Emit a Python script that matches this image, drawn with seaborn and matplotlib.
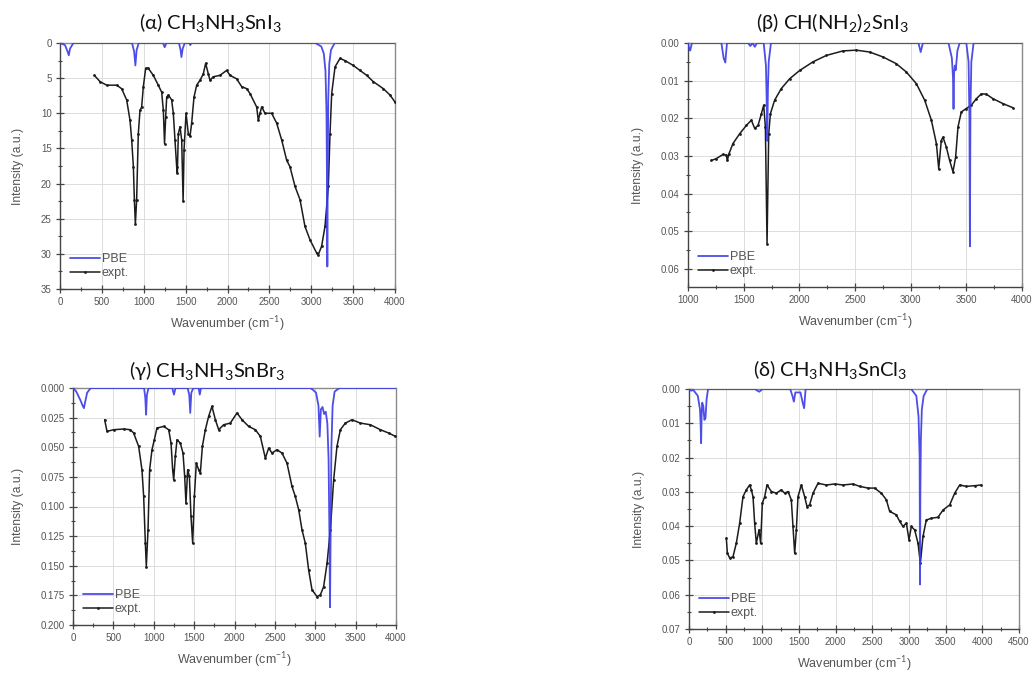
import matplotlib
matplotlib.use("Agg")
import matplotlib.pyplot as plt
from matplotlib.ticker import MultipleLocator, FormatStrFormatter
import pandas as pd
import seaborn as sns

# ---------------------------------------------------------------- data
# (alpha) CH3NH3SnI3
alpha_pbe_x = [0, 60, 90, 105, 120, 160, 860, 885, 900, 915, 940, 1230, 1250, 1270,
               1420, 1440, 1450, 1465, 1490, 1545, 1555, 1570, 3050, 3120, 3150, 3170,
               3182, 3188, 3192, 3197, 3203, 3215, 3235, 3280, 4000]
alpha_pbe_y = [0, 0.3, 1.2, 1.75, 0.8, 0, 0, 1.2, 3.2, 1.0, 0, 0, 0.6, 0,
               0, 1.0, 2.0, 0.8, 0, 0, 0.3, 0, 0, 0.5, 1.5, 4.0,
               10.0, 20.0, 31.8, 18.0, 8.0, 3.0, 1.0, 0, 0]
alpha_exp_x = [410, 478, 557, 677, 736, 796, 836, 856, 876, 888, 900, 915, 935, 955, 975,
               995, 1023, 1055, 1114, 1174, 1214, 1234, 1248, 1262, 1274, 1294, 1333, 1353,
               1373, 1393, 1401, 1413, 1433, 1453, 1470, 1481, 1505, 1532, 1552, 1572, 1600,
               1632, 1672, 1711, 1739, 1771, 1791, 1831, 1910, 1990, 2030, 2109, 2169, 2229,
               2269, 2348, 2368, 2388, 2408, 2448, 2527, 2587, 2647, 2707, 2746, 2806, 2866,
               2925, 2985, 3065, 3085, 3124, 3164, 3204, 3224, 3244, 3284, 3343, 3403, 3502,
               3582, 3662, 3741, 3861, 3940, 4000]
alpha_exp_y = [4.6, 5.5, 6.0, 6.0, 6.5, 8.1, 11.0, 13.8, 17.6, 22.3, 25.8, 22.3, 12.9, 9.6, 9.1,
               6.2, 3.6, 3.6, 4.6, 6.0, 7.0, 9.6, 14.3, 10.5, 7.7, 7.4, 8.1, 10.0,
               13.8, 17.6, 18.5, 12.9, 11.9, 13.8, 22.5, 15.2, 10.0, 12.9, 13.3, 11.4, 7.7,
               6.0, 5.3, 4.4, 2.9, 4.4, 5.3, 4.8, 4.6, 3.9, 4.6, 5.1, 6.2, 6.5,
               7.2, 9.1, 11.0, 10.0, 9.1, 10.0, 10.0, 11.4, 13.8, 16.7, 17.6, 20.4, 22.3,
               26.1, 28.0, 29.9, 30.1, 28.9, 26.1, 20.4, 12.9, 7.2, 3.4, 2.2, 2.5, 3.2,
               3.9, 4.6, 5.5, 6.5, 7.4, 8.4]

# (beta) CH(NH2)2SnI3
beta_pbe_x = [1000, 1010, 1020, 1035, 1300, 1320, 1335, 1350, 1540, 1560, 1580, 1600, 1620,
              1680, 1700, 1706, 1712, 1718, 1725, 1745, 3070, 3090, 3110, 3340, 3370, 3380,
              3385, 3390, 3397, 3405, 3420, 3440, 3500, 3520, 3528, 3532, 3537, 3545, 3565, 4000]
beta_pbe_y = [0.0, 0.0015, 0.002, 0.0, 0.0, 0.004, 0.0052, 0.0, 0.0, 0.0008, 0.0, 0.001, 0.0,
              0.0, 0.006, 0.014, 0.026, 0.012, 0.005, 0.0, 0.0, 0.0024, 0.0, 0.0, 0.004, 0.009,
              0.0175, 0.008, 0.006, 0.0072, 0.002, 0.0, 0.0, 0.005, 0.02, 0.054, 0.018, 0.005, 0.0, 0.0]
beta_exp_x = [1210, 1254, 1314, 1344, 1353, 1368, 1404, 1464, 1524, 1569, 1599, 1629, 1659,
              1680, 1695, 1710, 1725, 1740, 1778, 1838, 1913, 2003, 2123, 2243, 2392, 2512,
              2632, 2751, 2871, 2961, 3051, 3126, 3186, 3231, 3252, 3275, 3290, 3320, 3350,
              3380, 3404, 3425, 3455, 3500, 3545, 3590, 3635, 3680, 3740, 3829, 3919]
beta_exp_y = [0.0312, 0.0307, 0.0296, 0.0298, 0.0312, 0.0294, 0.0267, 0.0241, 0.0219, 0.0205,
              0.0227, 0.0219, 0.0188, 0.0165, 0.0223, 0.0533, 0.0241, 0.0188, 0.0152, 0.0121,
              0.0095, 0.0073, 0.0050, 0.0033, 0.0021, 0.0019, 0.0024, 0.0037, 0.0055, 0.0077,
              0.0108, 0.0152, 0.0205, 0.0267, 0.0334, 0.0259, 0.0250, 0.0276, 0.0312, 0.0342,
              0.0303, 0.0223, 0.0183, 0.0174, 0.0165, 0.0148, 0.0135, 0.0136, 0.0148, 0.0161,
              0.0172]

# (gamma) CH3NH3SnBr3
gamma_pbe_x = [0, 40, 90, 120, 135, 150, 175, 220, 880, 895, 905, 915, 935, 1230, 1250, 1270,
               1420, 1440, 1452, 1465, 1490, 1555, 1570, 1585, 2940, 2980, 3010, 3040, 3055,
               3070, 3090, 3110, 3130, 3150, 3165, 3175, 3183, 3192, 3200, 3215, 3240, 3300, 4000]
gamma_pbe_y = [0, 0.003, 0.010, 0.015, 0.017, 0.012, 0.004, 0, 0, 0.008, 0.0225, 0.006, 0, 0,
               0.0056, 0, 0, 0.006, 0.021, 0.004, 0, 0, 0.0056, 0, 0, 0.002, 0.004, 0.015,
               0.041, 0.018, 0.016, 0.022, 0.020, 0.030, 0.060, 0.120, 0.185, 0.110, 0.050,
               0.015, 0.003, 0, 0]
gamma_exp_x = [392, 421, 504, 627, 710, 751, 813, 854, 875, 896, 908, 929, 949, 978, 1007, 1040,
               1123, 1185, 1214, 1234, 1247, 1267, 1288, 1329, 1362, 1383, 1399, 1420, 1441,
               1461, 1482, 1503, 1527, 1556, 1577, 1602, 1639, 1680, 1721, 1763, 1804, 1866,
               1948, 2031, 2093, 2175, 2258, 2320, 2382, 2423, 2464, 2526, 2588, 2650, 2712,
               2753, 2795, 2836, 2877, 2918, 2960, 3022, 3063, 3104, 3146, 3187, 3228, 3269,
               3311, 3373, 3455, 3558, 3682, 3806, 3909, 3992]
gamma_exp_y = [0.0268, 0.0366, 0.0352, 0.0346, 0.0352, 0.0380, 0.0493, 0.0690, 0.0915, 0.131,
               0.1507, 0.1197, 0.0690, 0.0521, 0.0437, 0.0338, 0.0324, 0.0352, 0.0465, 0.0690,
               0.0775, 0.0577, 0.0437, 0.0465, 0.0549, 0.0746, 0.0972, 0.0690, 0.0746, 0.108,
               0.131, 0.0915, 0.0634, 0.0690, 0.0718, 0.0493, 0.0352, 0.0239, 0.0155, 0.0268,
               0.0352, 0.0310, 0.0296, 0.0211, 0.0268, 0.0324, 0.0352, 0.0408, 0.0592, 0.0507,
               0.0549, 0.0521, 0.0549, 0.0634, 0.0831, 0.0915, 0.1028, 0.1197, 0.131, 0.1535,
               0.1704, 0.176, 0.1746, 0.1676, 0.148, 0.1197, 0.0775, 0.0493, 0.0352, 0.0296,
               0.0268, 0.0296, 0.0310, 0.0352, 0.0380, 0.0408]

# (delta) CH3NH3SnCl3
delta_pbe_x = [0, 30, 60, 120, 150, 158, 165, 172, 180, 195, 210, 225, 240, 260, 900, 940, 960,
               1000, 1380, 1410, 1430, 1450, 1520, 1550, 1570, 1590, 3030, 3100, 3130, 3145,
               3150, 3155, 3162, 3175, 3200, 3250, 4000]
delta_pbe_y = [0, 0.0005, 0.0003, 0.002, 0.006, 0.010, 0.0158, 0.008, 0.004, 0.005, 0.009,
               0.0085, 0.003, 0, 0, 0.0006, 0.0008, 0, 0, 0.002, 0.0037, 0.001, 0.001, 0.004,
               0.0056, 0, 0, 0.002, 0.008, 0.020, 0.057, 0.030, 0.015, 0.006, 0.002, 0, 0]
delta_exp_x = [509, 523, 555, 600, 645, 691, 736, 782, 827, 850, 873, 895, 918, 955, 977, 1000,
               1032, 1064, 1123, 1191, 1259, 1305, 1350, 1395, 1418, 1441, 1464, 1486, 1532,
               1577, 1609, 1645, 1691, 1759, 1873, 1986, 2100, 2236, 2327, 2441, 2532, 2623,
               2691, 2736, 2827, 2873, 2918, 2964, 3000, 3032, 3077, 3123, 3155, 3191, 3236,
               3305, 3395, 3464, 3555, 3623, 3691, 3782, 3895, 3986]
delta_exp_y = [0.0435, 0.0479, 0.0493, 0.0489, 0.0450, 0.0391, 0.0314, 0.0294, 0.0280, 0.0294,
               0.0314, 0.0391, 0.0450, 0.0411, 0.0450, 0.0333, 0.0314, 0.0280, 0.0299, 0.0304,
               0.0294, 0.0304, 0.0299, 0.0323, 0.0401, 0.0479, 0.0411, 0.0314, 0.0280, 0.0314,
               0.0343, 0.0338, 0.0304, 0.0275, 0.0280, 0.0277, 0.0280, 0.0277, 0.0284, 0.0289,
               0.0289, 0.0304, 0.0323, 0.0357, 0.0367, 0.0386, 0.0401, 0.0391, 0.0440, 0.0401,
               0.0411, 0.0450, 0.0508, 0.0430, 0.0382, 0.0377, 0.0374, 0.0353, 0.0338, 0.0304,
               0.0280, 0.0284, 0.0282, 0.0280]

titles = [r"(α) CH$_3$NH$_3$SnI$_3$", r"(β) CH(NH$_2$)$_2$SnI$_3$",
          r"(γ) CH$_3$NH$_3$SnBr$_3$", r"(δ) CH$_3$NH$_3$SnCl$_3$"]

# ---------------------------------------------------------------- style
sns.set_style("ticks")
plt.rcParams["font.family"] = ["Liberation Sans", "DejaVu Sans"]
plt.rcParams["mathtext.fontset"] = "custom"
plt.rcParams["mathtext.rm"] = "Lato"
plt.rcParams["mathtext.it"] = "Lato"
plt.rcParams["mathtext.bf"] = "Lato"

BLUE = "#3a3ae6"
BLACK = "#1c1c1c"
GREY = "#555555"

fig = plt.figure(figsize=(10.32, 6.73), dpi=100)
W, H = 1032, 673


def axes_px(left, top, right, bottom):
    return fig.add_axes([left / W, 1 - bottom / H, (right - left) / W, (bottom - top) / H])


panels = [
    dict(box=(60, 43, 395, 289), pbe=(alpha_pbe_x, alpha_pbe_y), exp=(alpha_exp_x, alpha_exp_y),
         xlim=(0, 4000), ylim=(35, 0), ymaj=5, ymin=2.5, yfmt="%d", title_xy=(210, 23)),
    dict(box=(688, 43, 1022, 287), pbe=(beta_pbe_x, beta_pbe_y), exp=(beta_exp_x, beta_exp_y),
         xlim=(1000, 4000), ylim=(0.0648, 0), ymaj=0.01, ymin=0.005, yfmt="%.2f", title_xy=(832, 23)),
    dict(box=(73, 388, 396, 625), pbe=(gamma_pbe_x, gamma_pbe_y), exp=(gamma_exp_x, gamma_exp_y),
         xlim=(0, 4000), ylim=(0.2, 0), ymaj=0.025, ymin=0.0125, yfmt="%.3f", title_xy=(207, 370)),
    dict(box=(689, 389, 1019, 629), pbe=(delta_pbe_x, delta_pbe_y), exp=(delta_exp_x, delta_exp_y),
         xlim=(0, 4500), ylim=(0.07, 0), ymaj=0.01, ymin=0.005, yfmt="%.2f", title_xy=(830, 369)),
]

for p, title in zip(panels, titles):
    ax = axes_px(*p["box"])
    ax.set_axisbelow(True)
    ax.grid(True, which="major", color="#dcdcdc", lw=0.7)

    exp_df = pd.DataFrame({"wavenumber": p["exp"][0], "intensity": p["exp"][1]})
    pbe_df = pd.DataFrame({"wavenumber": p["pbe"][0], "intensity": p["pbe"][1]})

    sns.lineplot(data=exp_df, x="wavenumber", y="intensity", ax=ax, color=BLACK, lw=1.1,
                 marker=".", markersize=4, markeredgewidth=0, estimator=None,
                 label="expt.", zorder=3)
    sns.lineplot(data=pbe_df, x="wavenumber", y="intensity", ax=ax, color=BLUE, lw=1.3,
                 alpha=0.9, estimator=None, label="PBE", zorder=4)

    ax.set_xlim(*p["xlim"])
    ax.set_ylim(*p["ylim"])
    ax.xaxis.set_major_locator(MultipleLocator(500))
    ax.xaxis.set_minor_locator(MultipleLocator(250))
    ax.yaxis.set_major_locator(MultipleLocator(p["ymaj"]))
    ax.yaxis.set_minor_locator(MultipleLocator(p["ymin"]))
    ax.yaxis.set_major_formatter(FormatStrFormatter(p["yfmt"]))

    ax.tick_params(which="major", direction="inout", length=6, width=0.9, color="#444444",
                   labelsize=7, labelcolor=GREY, pad=3)
    ax.tick_params(which="minor", direction="inout", length=3.5, width=0.8, color="#444444")
    for side in ["top", "right"]:
        ax.spines[side].set_color("#8a8a8a")
        ax.spines[side].set_linewidth(1.0)
    for side in ["left", "bottom"]:
        ax.spines[side].set_color("#444444")
        ax.spines[side].set_linewidth(1.0)

    ax.set_xlabel(r"Wavenumber (cm$^{-1}$)", fontsize=9, color=GREY, labelpad=5)
    ax.set_ylabel("Intensity (a.u.)", fontsize=8.7, color=GREY, labelpad=12)

    handles, labels = ax.get_legend_handles_labels()
    order = [labels.index("PBE"), labels.index("expt.")]
    ax.legend([handles[i] for i in order], [labels[i] for i in order], loc="lower left",
              frameon=False, fontsize=9, handlelength=2.4, handletextpad=0.15,
              labelspacing=0.15, borderaxespad=0.4, labelcolor=GREY)

    tx, ty = p["title_xy"]
    fig.text(tx / W, 1 - ty / H, title, ha="center", va="center", fontsize=14.5,
             family=["Lato", "DejaVu Sans"], color="#111111")

fig.savefig("out.png", dpi=100)
